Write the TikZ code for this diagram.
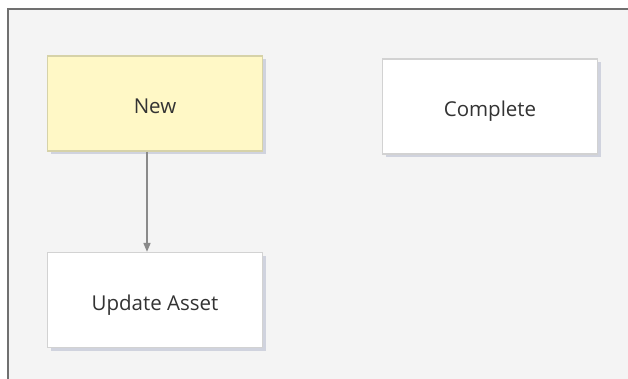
\documentclass[tikz,border=0pt]{standalone}
\usepackage{fontspec}
\setmainfont{Open Sans}
\usetikzlibrary{arrows.meta,shadows}
\definecolor{bgc}{HTML}{F4F4F4}
\definecolor{framec}{HTML}{707070}
\definecolor{yelc}{HTML}{FFF8C6}
\definecolor{yelborder}{HTML}{D6D2A8}
\definecolor{whborder}{HTML}{D2D2D2}
\definecolor{shadc}{HTML}{B8BDD0}
\definecolor{txtc}{HTML}{333333}
\definecolor{arrc}{HTML}{8A8A8A}
\newcommand{\lowtext}[1]{\raisebox{-10.5pt}[0pt][0pt]{#1}}
\tikzset{
  x=1pt, y=-1pt,
  statebox/.style={draw=whborder, line width=1.2pt, fill=white, minimum width=215pt, minimum height=95pt,
    inner sep=0pt, text=txtc, font=\fontsize{20.5}{23}\selectfont,
    drop shadow={shadow xshift=3.5pt, shadow yshift=-3.5pt, fill=shadc, opacity=0.6}},
  newbox/.style={statebox, fill=yelc, draw=yelborder},
  conn/.style={draw=arrc, line width=1.6pt, -{Triangle[length=9pt,width=7pt]}}
}
\begin{document}
\begin{tikzpicture}
\useasboundingbox (0,0) rectangle (628,379);
\fill[white] (0,0) rectangle (628,379);
\fill[bgc] (8,9) rectangle (628,379);
\draw[framec, line width=2pt] (8,379) -- (8,9) -- (628,9);
\node[newbox] (new) at (155,103.5) {\lowtext{New}};
\node[statebox] (complete) at (490,106.5) {\lowtext{Complete}};
\node[statebox] (update) at (155,300) {\lowtext{Update Asset}};
\draw[conn] (new.south -| 147,0) -- (update.north -| 147,0);
\end{tikzpicture}
\end{document}
